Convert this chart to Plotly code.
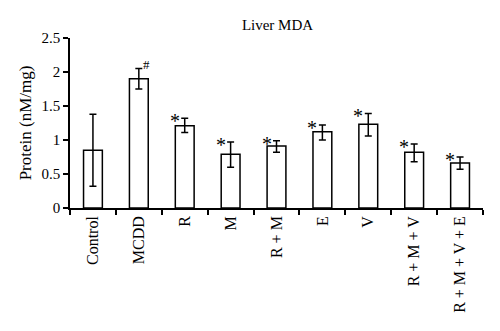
import plotly.graph_objects as go

categories = ["Control", "MCDD", "R", "M", "R + M", "E", "V", "R + M + V", "R + M + V + E"]
values = [0.85, 1.90, 1.21, 0.79, 0.91, 1.12, 1.23, 0.82, 0.66]
err_plus = [0.53, 0.15, 0.11, 0.18, 0.08, 0.10, 0.16, 0.12, 0.09]
err_minus = [0.53, 0.15, 0.10, 0.19, 0.09, 0.12, 0.17, 0.14, 0.09]
marks = ["", "#", "*", "*", "*", "*", "*", "*", "*"]

font_family = "Liberation Serif, Times New Roman, serif"

fig = go.Figure()
fig.add_trace(go.Bar(
    x=categories, y=values, width=0.41,
    marker=dict(color="white", line=dict(color="black", width=1.5)),
    error_y=dict(type="data", symmetric=False, array=err_plus, arrayminus=err_minus,
                 color="black", thickness=1.5, width=3.5),
    showlegend=False,
))

for c, v, e, m in zip(categories, values, err_plus, marks):
    if not m:
        continue
    if m == "#":
        fig.add_annotation(x=c, y=v + e, text=m, showarrow=False, xshift=8, yshift=4,
                           font=dict(family=font_family, size=13, color="black"))
    else:
        fig.add_annotation(x=c, y=v + e, text=m, showarrow=False, xshift=-10, yshift=-3,
                           font=dict(family=font_family, size=20, color="black"))

fig.update_layout(
    width=500, height=331,
    margin=dict(l=70, r=17, t=38, b=123),
    paper_bgcolor="white", plot_bgcolor="white",
    font=dict(family=font_family, size=15, color="black"),
    title=dict(text="Liver MDA", x=0.555, xanchor="center", y=0.925, yanchor="middle",
               font=dict(family=font_family, size=15, color="black")),
    bargap=0.59,
)
fig.update_xaxes(
    type="category", showline=True, linecolor="black", linewidth=1.5,
    ticks="outside", tickson="boundaries", ticklen=5, tickcolor="black", tickwidth=1.5,
    tickangle=-90, tickfont=dict(family=font_family, size=16), showgrid=False,
)
fig.update_yaxes(
    range=[0, 2.5], dtick=0.5, showline=True, linecolor="black", linewidth=1.5,
    ticks="outside", ticklen=5, tickcolor="black", tickwidth=1.5,
    tickfont=dict(family=font_family, size=15), showgrid=False, zeroline=False,
    title=dict(text="Protein (nM/mg)", font=dict(family=font_family, size=17), standoff=6),
)

fig.write_html("out.html")
